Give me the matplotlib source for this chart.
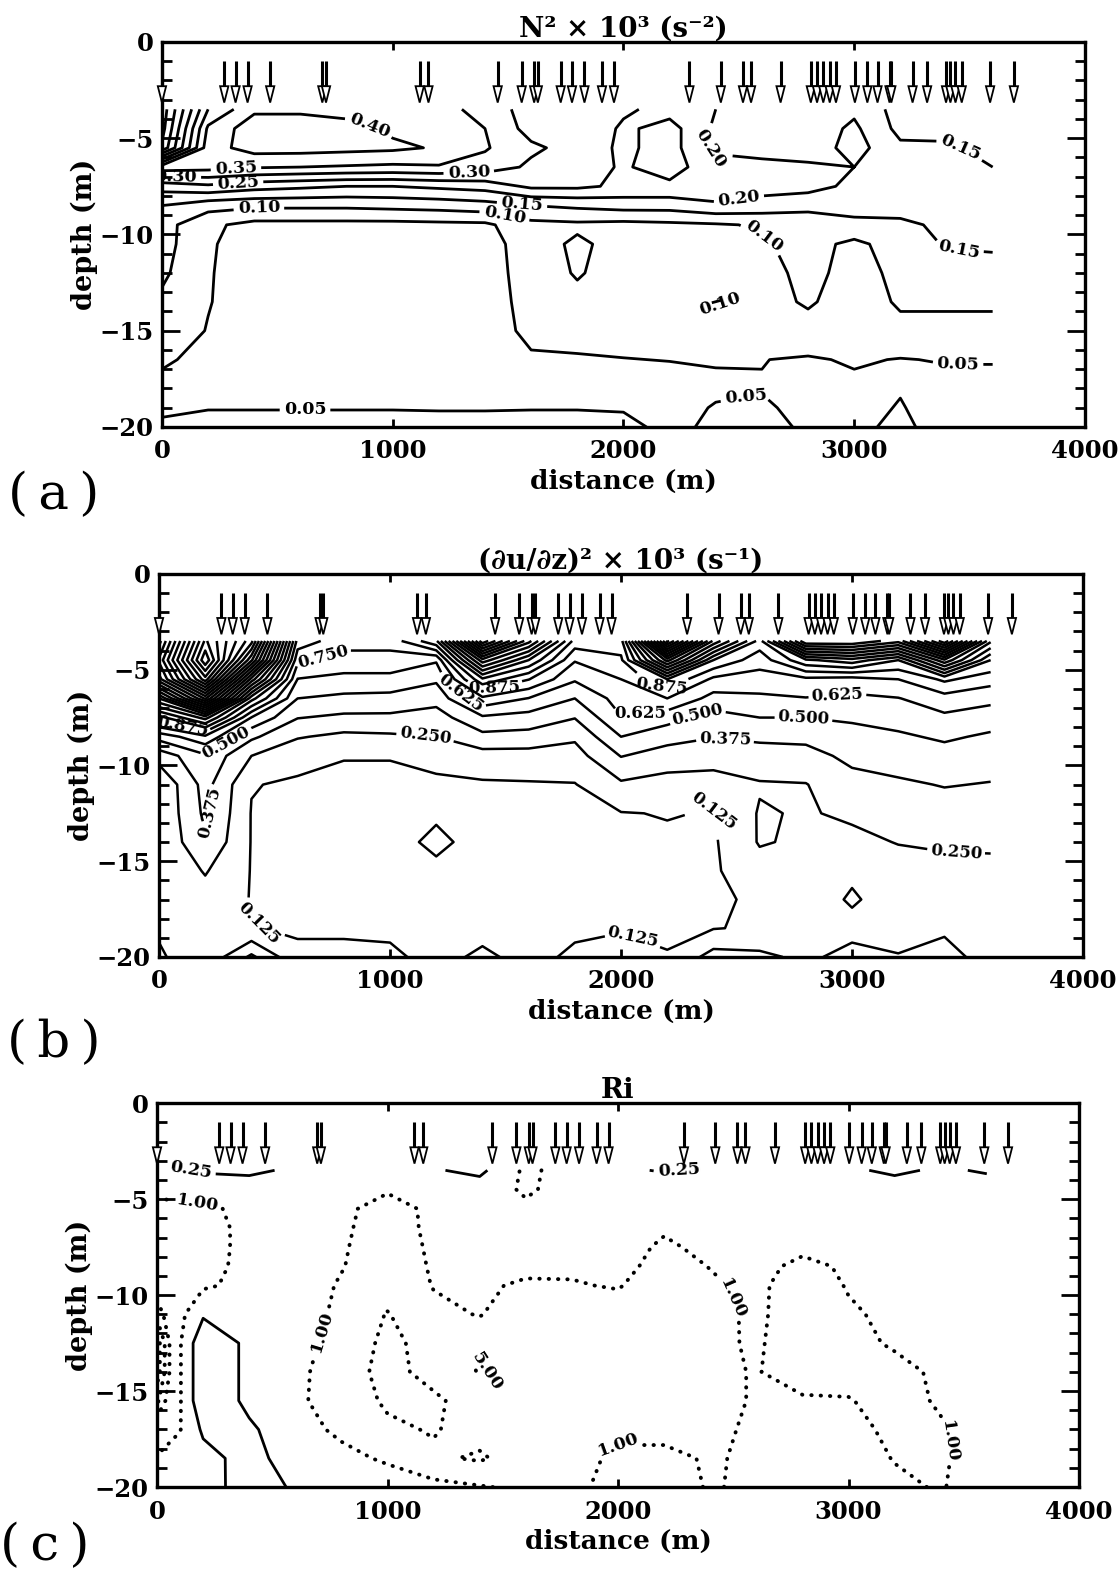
import numpy as np
import matplotlib
matplotlib.use("Agg")
import matplotlib.pyplot as plt
from matplotlib.patches import Polygon

plt.rcParams['font.family'] = ['DejaVu Serif']
plt.rcParams['font.weight'] = 'bold'
plt.rcParams['axes.titleweight'] = 'bold'
plt.rcParams['axes.labelweight'] = 'bold'

#%% data
# stations marked by the arrows (distance, m)
stations = [0, 270, 319, 371, 469, 695, 711, 1117, 1155, 1455, 1559, 1613, 1629,
            1728, 1777, 1831, 1907, 1959, 2286, 2422, 2518, 2553, 2681, 2812,
            2839, 2866, 2894, 2921, 3003, 3057, 3101, 3153, 3161, 3253, 3316,
            3398, 3417, 3439, 3466, 3589, 3692]

# grid for panels (a) and (b)
dist_ab = [0, 200, 400, 600, 800, 1000, 1200, 1400, 1600, 1800, 2000, 2200,
           2400, 2600, 2800, 3000, 3200, 3400, 3600]

# (a) N^2 x 10^3, rows = depth
depth_a = [-3.5, -4.5, -5.5, -6.5, -7.5, -8.5, -9.5, -10.5, -12, -13.5, -15,
           -16.5, -18, -19, -20]
n2 = [
    [0.02, 0.30, 0.39, 0.39, 0.38, 0.37, 0.36, 0.34, 0.27, 0.29, 0.26, 0.23, 0.20, 0.18, 0.17, 0.19, 0.13, 0.14, 0.13],
    [0.03, 0.36, 0.43, 0.43, 0.42, 0.39, 0.37, 0.35, 0.28, 0.30, 0.24, 0.27, 0.19, 0.18, 0.17, 0.21, 0.135, 0.14, 0.13],
    [0.06, 0.38, 0.42, 0.42, 0.415, 0.41, 0.395, 0.355, 0.31, 0.28, 0.24, 0.27, 0.19, 0.18, 0.17, 0.22, 0.16, 0.155, 0.14],
    [0.38, 0.37, 0.355, 0.35, 0.345, 0.34, 0.345, 0.33, 0.29, 0.27, 0.245, 0.27, 0.22, 0.215, 0.21, 0.20, 0.16, 0.155, 0.15],
    [0.22, 0.24, 0.22, 0.21, 0.20, 0.20, 0.21, 0.22, 0.26, 0.26, 0.24, 0.24, 0.24, 0.22, 0.215, 0.19, 0.17, 0.16, 0.16],
    [0.15, 0.12, 0.11, 0.11, 0.11, 0.115, 0.12, 0.13, 0.15, 0.16, 0.17, 0.17, 0.19, 0.18, 0.17, 0.18, 0.17, 0.17, 0.17],
    [0.12, 0.06, 0.035, 0.035, 0.035, 0.035, 0.038, 0.04, 0.085, 0.09, 0.085, 0.09, 0.095, 0.105, 0.11, 0.13, 0.14, 0.16, 0.16],
    [0.12, 0.055, 0.03, 0.03, 0.03, 0.03, 0.03, 0.03, 0.075, 0.11, 0.08, 0.085, 0.085, 0.095, 0.115, 0.09, 0.12, 0.155, 0.16],
    [0.11, 0.053, 0.03, 0.03, 0.03, 0.03, 0.03, 0.03, 0.07, 0.105, 0.075, 0.075, 0.08, 0.085, 0.112, 0.085, 0.11, 0.125, 0.125],
    [0.09, 0.052, 0.03, 0.03, 0.03, 0.03, 0.03, 0.03, 0.065, 0.085, 0.07, 0.07, 0.104, 0.085, 0.105, 0.08, 0.105, 0.105, 0.105],
    [0.075, 0.048, 0.03, 0.03, 0.03, 0.03, 0.03, 0.03, 0.06, 0.065, 0.065, 0.062, 0.07, 0.075, 0.085, 0.075, 0.09, 0.09, 0.09],
    [0.055, 0.04, 0.03, 0.03, 0.03, 0.03, 0.03, 0.03, 0.045, 0.046, 0.049, 0.051, 0.052, 0.051, 0.045, 0.055, 0.048, 0.053, 0.053],
    [0.04, 0.035, 0.035, 0.035, 0.035, 0.035, 0.035, 0.035, 0.035, 0.035, 0.035, 0.035, 0.045, 0.048, 0.04, 0.04, 0.048, 0.035, 0.035],
    [0.045, 0.048, 0.048, 0.048, 0.048, 0.048, 0.047, 0.047, 0.048, 0.048, 0.047, 0.04, 0.052, 0.055, 0.04, 0.04, 0.052, 0.035, 0.035],
    [0.055, 0.065, 0.065, 0.065, 0.065, 0.065, 0.065, 0.065, 0.065, 0.065, 0.06, 0.04, 0.058, 0.06, 0.045, 0.045, 0.055, 0.04, 0.04],
]
n2_levels = [0.05, 0.10, 0.15, 0.20, 0.25, 0.30, 0.35, 0.40]

# (b) (du/dz)^2 x 10^3, rows = depth
depth_bc = [-3.5, -4.5, -5.5, -6.5, -7.5, -8.5, -9.5, -11, -12.5, -14, -15.5,
            -17, -18.5, -20]
shear = [
    [2.2, 3.4, 2.8, 0.95, 0.80, 0.80, 1.10, 2.60, 1.80, 0.95, 0.95, 2.8, 1.6, 0.95, 2.0, 2.0, 1.8, 2.6, 1.4],
    [2.4, 3.6, 2.4, 0.78, 0.70, 0.70, 0.64, 1.70, 1.25, 0.76, 0.85, 1.8, 1.0, 0.80, 1.1, 1.2, 1.0, 1.6, 1.0],
    [2.2, 3.2, 1.7, 0.62, 0.59, 0.59, 0.52, 1.10, 0.88, 0.64, 0.75, 1.0, 0.72, 0.70, 0.72, 0.70, 0.75, 0.90, 0.80],
    [1.5, 2.4, 1.05, 0.50, 0.47, 0.46, 0.42, 0.72, 0.62, 0.50, 0.68, 0.75, 0.58, 0.60, 0.62, 0.60, 0.62, 0.70, 0.66],
    [0.95, 1.3, 0.62, 0.38, 0.35, 0.35, 0.32, 0.48, 0.45, 0.38, 0.62, 0.55, 0.45, 0.50, 0.50, 0.52, 0.55, 0.60, 0.56],
    [0.55, 0.72, 0.40, 0.26, 0.22, 0.23, 0.25, 0.34, 0.33, 0.27, 0.50, 0.42, 0.38, 0.40, 0.40, 0.45, 0.48, 0.52, 0.48],
    [0.30, 0.48, 0.25, 0.16, 0.13, 0.13, 0.15, 0.20, 0.20, 0.20, 0.38, 0.32, 0.30, 0.32, 0.34, 0.40, 0.42, 0.45, 0.42],
    [0.14, 0.42, 0.13, 0.11, 0.10, 0.10, 0.11, 0.11, 0.115, 0.12, 0.23, 0.20, 0.20, 0.24, 0.245, 0.34, 0.36, 0.38, 0.37],
    [0.14, 0.40, 0.12, 0.11, 0.10, 0.10, 0.115, 0.10, 0.10, 0.10, 0.12, 0.13, 0.12, 0.26, 0.24, 0.27, 0.30, 0.33, 0.33],
    [0.14, 0.36, 0.12, 0.11, 0.10, 0.10, 0.14, 0.10, 0.10, 0.10, 0.10, 0.11, 0.11, 0.26, 0.23, 0.22, 0.255, 0.27, 0.27],
    [0.14, 0.26, 0.12, 0.11, 0.10, 0.10, 0.11, 0.10, 0.10, 0.10, 0.10, 0.10, 0.11, 0.20, 0.20, 0.22, 0.20, 0.21, 0.22],
    [0.14, 0.20, 0.12, 0.11, 0.10, 0.10, 0.10, 0.10, 0.10, 0.10, 0.10, 0.10, 0.11, 0.14, 0.16, 0.27, 0.17, 0.20, 0.20],
    [0.13, 0.16, 0.13, 0.11, 0.11, 0.11, 0.10, 0.10, 0.10, 0.11, 0.12, 0.11, 0.12, 0.14, 0.17, 0.20, 0.18, 0.22, 0.18],
    [0.12, 0.15, 0.40, 0.15, 0.15, 0.14, 0.10, 0.14, 0.10, 0.14, 0.15, 0.13, 0.30, 0.28, 0.22, 0.30, 0.26, 0.32, 0.17],
]
shear_levels = [0.125 * k for k in range(1, 29)]

# (c) Ri, rows = depth
dist_c = [0, 100, 200, 400, 600, 800, 1000, 1200, 1400, 1600, 1800, 2000, 2200,
          2400, 2600, 2800, 3000, 3200, 3400, 3600]
ri = [
    [0.30, 0.28, 0.22, 0.20, 0.30, 0.30, 0.30, 0.28, 0.18, 1.30, 0.60, 0.30, 0.23, 0.30, 0.30, 0.30, 0.30, 0.20, 0.30, 0.22],
    [0.70, 0.60, 0.50, 0.45, 0.50, 0.45, 0.90, 0.60, 0.50, 1.20, 0.60, 0.50, 0.50, 0.50, 0.50, 0.50, 0.50, 0.45, 0.45, 0.45],
    [1.5, 1.4, 1.3, 0.70, 0.60, 0.80, 1.5, 0.80, 0.70, 0.80, 0.55, 0.55, 0.60, 0.60, 0.60, 0.60, 0.60, 0.60, 0.55, 0.55],
    [2.0, 1.6, 1.5, 0.75, 0.60, 0.85, 1.6, 0.80, 0.70, 0.75, 0.60, 0.60, 0.90, 0.70, 0.65, 0.70, 0.70, 0.70, 0.60, 0.60],
    [2.0, 1.6, 1.5, 0.75, 0.60, 0.90, 1.7, 0.85, 0.75, 0.85, 0.70, 0.70, 1.15, 0.80, 0.70, 0.85, 0.80, 0.75, 0.65, 0.60],
    [2.2, 1.6, 1.4, 0.75, 0.60, 0.95, 1.8, 0.90, 0.85, 0.85, 0.90, 0.80, 1.30, 0.98, 0.80, 1.20, 0.90, 0.80, 0.70, 0.60],
    [3.0, 1.6, 1.2, 0.70, 0.60, 1.10, 2.2, 0.95, 0.90, 1.10, 1.05, 0.95, 1.50, 1.10, 0.85, 1.50, 0.95, 0.80, 0.70, 0.60],
    [8.0, 1.4, 0.30, 0.40, 0.55, 1.30, 5.5, 1.30, 0.95, 1.8, 1.4, 1.4, 1.6, 1.3, 0.85, 1.6, 1.1, 0.85, 0.75, 0.65],
    [30, 1.1, 0.08, 0.35, 0.50, 2.0, 7.0, 3.0, 1.8, 2.5, 1.8, 1.8, 1.7, 1.2, 0.90, 1.6, 1.3, 0.90, 0.80, 0.70],
    [30, 1.1, 0.08, 0.35, 0.60, 3.0, 7.0, 3.5, 5.5, 3.0, 2.0, 1.8, 1.7, 1.2, 0.95, 1.5, 1.4, 1.3, 0.85, 0.70],
    [12, 1.1, 0.08, 0.35, 0.70, 2.5, 6.0, 6.0, 3.0, 4.0, 2.0, 1.7, 1.6, 1.2, 0.95, 0.90, 0.95, 1.4, 0.90, 0.70],
    [2.5, 1.05, 0.20, 0.20, 0.60, 1.3, 4.0, 5.5, 3.0, 4.0, 1.8, 1.3, 1.3, 1.15, 0.90, 0.60, 0.70, 1.3, 1.1, 0.60],
    [0.9, 0.6, 0.40, 0.15, 0.50, 0.70, 1.2, 4.0, 6.0, 2.5, 1.5, 0.8, 0.8, 1.1, 0.85, 0.50, 0.60, 1.05, 1.2, 0.50],
    [0.6, 0.5, 0.50, 0.12, 0.30, 0.40, 0.5, 0.6, 0.9, 1.3, 1.4, 0.6, 0.6, 1.1, 0.8, 0.40, 0.50, 0.8, 1.1, 0.50],
]
ri_solid = [0.25]
ri_dotted = [1.0, 5.0, 10.0, 20.0]

# where the contour labels sit (distance, depth)
lab_a = [(900, -4.3), (320, -6.4), (60, -7.0), (330, -7.3), (1330, -6.9),
         (420, -8.7), (1560, -8.5), (1480, -9.3), (2340, -5.9), (2500, -8.1),
         (2620, -9.9), (2420, -13.6), (3470, -5.2), (3450, -11.2),
         (3450, -16.3), (2520, -17.8), (620, -19.1)]
lab_b = [(700, -4.0), (1150, -8.9), (230, -12.5), (480, -17.8), (300, -9.0),
         (100, -8.0), (1450, -6.0), (1300, -6.3), (2180, -5.8), (2080, -7.0),
         (2330, -7.3), (2450, -8.6), (2420, -12.0), (2790, -7.8), (2940, -6.8),
         (3450, -14.6), (2050, -19.0)]
lab_c_solid = [(90, -3.7), (2280, -3.8)]
lab_c_dot = [(180, -5.0), (700, -11.8), (1450, -14.3), (2450, -10.4),
             (2000, -17.8), (3480, -17.6)]


def frame(ax, pos, title):
    ax.set_position(pos)
    ax.set_xlim(0, 4000)
    ax.set_ylim(-20, 0)
    ax.set_xticks([0, 1000, 2000, 3000, 4000])
    ax.set_yticks([0, -5, -10, -15, -20])
    ax.set_yticks(range(-20, 1), minor=True)
    ax.tick_params(axis='both', which='both', direction='in', width=2, labelsize=17.5)
    ax.tick_params(axis='y', which='major', length=13, left=True, right=True, pad=6)
    ax.tick_params(axis='y', which='minor', length=7, left=True, right=True)
    ax.tick_params(axis='x', which='major', length=6, top=True, bottom=True, pad=9)
    for sp in ax.spines.values():
        sp.set_linewidth(2.4)
    ax.set_title(title, fontsize=20, pad=4)
    ax.set_xlabel('distance (m)', fontsize=19, labelpad=4)
    ax.set_ylabel('depth (m)', fontsize=19.5, labelpad=1)
    # station arrows
    for s in stations:
        ax.plot([s, s], [-1.0, -2.35], color='k', lw=2.2, solid_capstyle='butt',
                clip_on=False, zorder=4)
        ax.add_patch(Polygon([[s - 18, -2.3], [s + 18, -2.3], [s, -3.15]], closed=True,
                             fc='white', ec='k', lw=1.3, clip_on=False, zorder=5))


fig = plt.figure(figsize=(11.2, 15.82), dpi=100)

#%% (a)
ax1 = fig.add_axes([0, 0, 1, 1])
frame(ax1, [0.1446, 0.7301, 0.8241, 0.2434], 'N² × 10³ (s⁻²)')
cs = ax1.contour(dist_ab, depth_a, n2, levels=n2_levels, colors='k', linewidths=2.0)
ax1.clabel(cs, manual=lab_a, fmt='%.2f', fontsize=12.5, inline_spacing=4)

#%% (b)
ax2 = fig.add_axes([0, 0, 1, 1])
frame(ax2, [0.1420, 0.3951, 0.8250, 0.2421], '(∂u/∂z)² × 10³ (s⁻¹)')
cs = ax2.contour(dist_ab, depth_bc, shear, levels=shear_levels, colors='k', linewidths=1.8)
ax2.clabel(cs, manual=lab_b, fmt='%.3f', fontsize=12, inline_spacing=3)

#%% (c)  contoured on log10(Ri)
ax3 = fig.add_axes([0, 0, 1, 1])
frame(ax3, [0.1402, 0.0600, 0.8232, 0.2427], 'Ri')
logri = np.log10(np.array(ri))
cs1 = ax3.contour(dist_c, depth_bc, logri, levels=np.log10(ri_solid), colors='k',
                  linewidths=2.0, linestyles='solid')
cs2 = ax3.contour(dist_c, depth_bc, logri, levels=np.log10(ri_dotted), colors='k',
                  linewidths=2.8)
cs2.set_linestyle((0, (0.1, 2.3)))
cs2.set_capstyle('round')
ax3.clabel(cs1, manual=lab_c_solid, fmt={l: '%.2f' % v for l, v in zip(cs1.levels, ri_solid)},
           fontsize=12.5, inline_spacing=4)
ax3.clabel(cs2, manual=lab_c_dot, fmt={l: '%.2f' % v for l, v in zip(cs2.levels, ri_dotted)},
           fontsize=12.5, inline_spacing=4)

# panel letters
for yp, xp, letter in [(495, 0.048, 'a'), (1043, 0.048, 'b'), (1546, 0.040, 'c')]:
    fig.text(xp, 1 - yp / 1582, '(\u2009%s\u2009)' % letter, fontsize=37,
             fontweight='normal', ha='center', va='center')

fig.savefig('out.png', dpi=100)
